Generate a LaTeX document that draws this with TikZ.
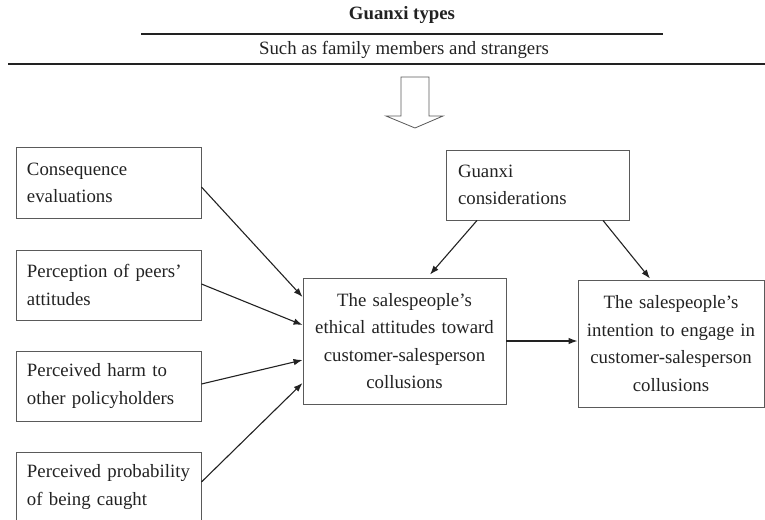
\documentclass[tikz,border=0pt]{standalone}
\usepackage{fontspec}
\setmainfont{Liberation Serif}
\usepackage{xcolor}
\usetikzlibrary{arrows.meta,calc}
\definecolor{edge}{HTML}{5A5A5A}
\definecolor{ink}{HTML}{222222}

\begin{document}
\begin{tikzpicture}[x=1pt,y=-1pt,>={Latex[length=9pt,width=6.5pt]},
  every node/.style={font=\fontsize{18.8}{27.5}\selectfont,text=ink},
  heading/.style={font=\fontsize{18.8}{27.5}\selectfont\bfseries},
  rule/.style={ink,line width=1.9pt},
  factor/.style={draw=edge,line width=0.9pt,text width=163pt,inner xsep=11pt,align=left,minimum height=70pt},
  stage/.style={draw=edge,line width=0.9pt,align=center,inner xsep=8pt,minimum height=126pt},
  link/.style={->,ink,line width=1.1pt}]
\useasboundingbox (0,0) rectangle (765,519);
\node[heading] (title) at (402,15) {Guanxi types};
\node (sub) at (404,50) {Such as family members and strangers};
\draw[rule] (141,34) -- (663,34);
\draw[rule] (8,64) -- (765,64);
\draw[edge,line width=0.8pt,fill=white] (401,77) -- (429,77) -- (429,116) -- (443,116) -- (415,128) -- (386,116) -- (401,116) -- cycle;
\node[factor,minimum height=71pt] (cons) at (108.5,183) {Consequence\\evaluations};
\node[factor] (peers) at (108.5,285) {Perception of peers'\\attitudes};
\node[factor] (harm) at (108.5,386) {Perceived harm to\\other policyholders};
\node[factor] (prob) at (108.5,487) {Perceived probability\\of being caught};
\node[factor,text width=159pt,inner xsep=12pt] (guanxi) at (537.5,185) {Guanxi\\considerations};
\node[stage,text width=187pt] (ethic) at (404.5,341) {The salespeople's\\ethical attitudes toward\\customer-salesperson\\collusions};
\node[stage,text width=170pt,minimum height=127pt] (intent) at (671,343.5) {The salespeople's\\intention to engage in\\customer-salesperson\\collusions};
\draw[link] ([yshift=-4pt]cons.east) -- ([yshift=44pt]ethic.west);
\draw[link] ([yshift=1pt]peers.east) -- ([yshift=16pt]ethic.west);
\draw[link] ([yshift=2pt]harm.east) -- ([yshift=-19pt]ethic.west);
\draw[link] ([yshift=5pt]prob.east) -- ([yshift=-42pt]ethic.west);
\draw[link] ([xshift=-60.5pt]guanxi.south) -- ([xshift=25.5pt,yshift=3pt]ethic.north);
\draw[link] ([xshift=65.5pt]guanxi.south) -- ([xshift=-21pt,yshift=1pt]intent.north);
\draw[link] (ethic.east) -- (ethic.east -| intent.west);
\end{tikzpicture}
\end{document}
